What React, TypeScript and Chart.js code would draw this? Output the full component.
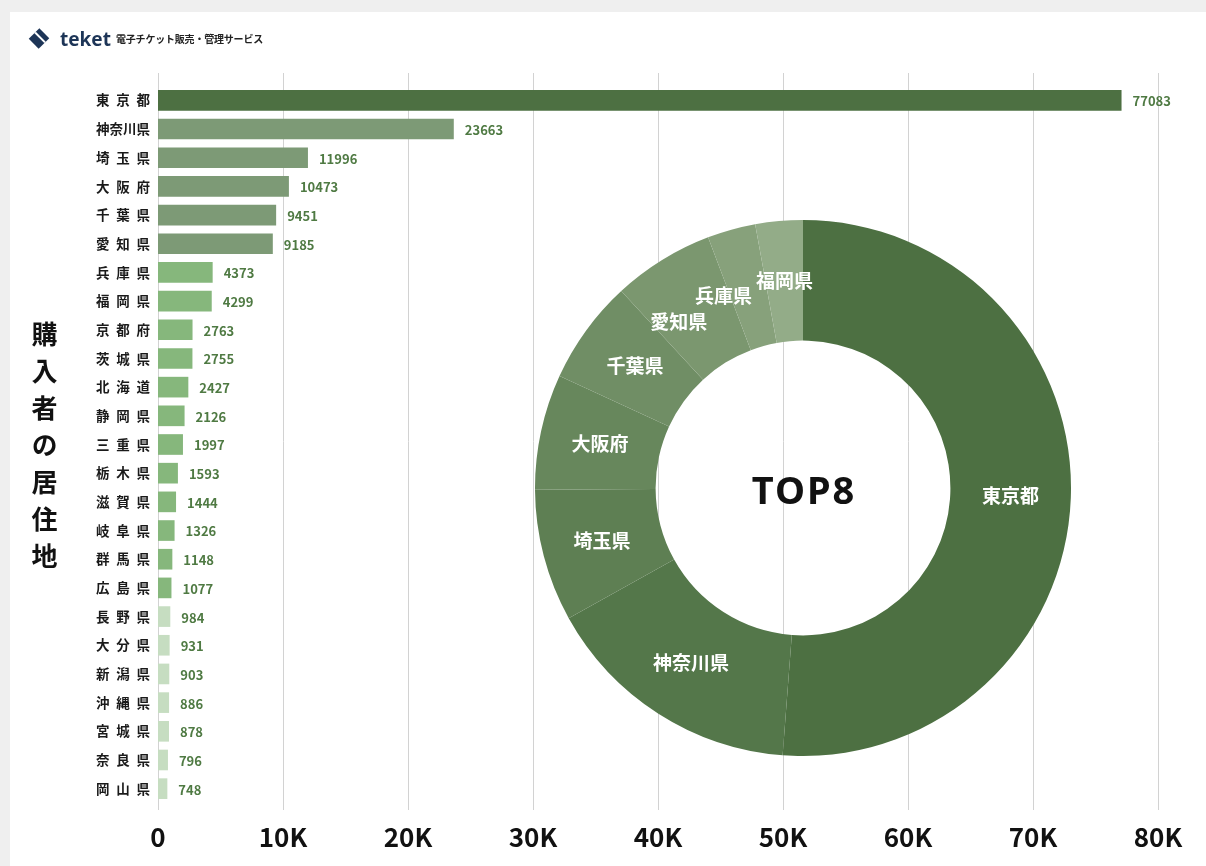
import React, { useEffect, useRef } from "react";
import { Chart, registerables } from "chart.js";

Chart.register(...registerables);

const prefectures = [
  "東京都", "神奈川県", "埼玉県", "大阪府", "千葉県", "愛知県", "兵庫県", "福岡県",
  "京都府", "茨城県", "北海道", "静岡県", "三重県", "栃木県", "滋賀県", "岐阜県",
  "群馬県", "広島県", "長野県", "大分県", "新潟県", "沖縄県", "宮城県", "奈良県", "岡山県",
];
const buyers = [
  77083, 23663, 11996, 10473, 9451, 9185, 4373, 4299,
  2763, 2755, 2427, 2126, 1997, 1593, 1444, 1326,
  1148, 1077, 984, 931, 903, 886, 878, 796, 748,
];
const xTickValues = [0, 10000, 20000, 30000, 40000, 50000, 60000, 70000, 80000];
const xTickLabels = ["0", "10K", "20K", "30K", "40K", "50K", "60K", "70K", "80K"];
const top8Labels = prefectures.slice(0, 8);
const top8Values = buyers.slice(0, 8);
const centerTitle = "TOP8";
const yTitle = "購入者の居住地";
const brand = "teket";
const brandSub = "電子チケット販売・管理サービス";

const FONT = "'Noto Sans CJK JP', 'Noto Sans', sans-serif";

function barColor(i: number): string {
  if (i === 0) return "#4d7042";
  if (i <= 5) return "#7d9a76";
  if (i <= 17) return "#86b77c";
  return "#c6ddc1";
}

const donutColors = ["#4d7042", "#54774a", "#5e7f53", "#67875c", "#708e65", "#7b976f", "#87a17b", "#93ac88"];

const gridPlugin = {
  id: "extGrid",
  beforeDatasetsDraw(chart: any) {
    const { ctx, chartArea } = chart;
    const xs = chart.scales.x;
    ctx.save();
    ctx.strokeStyle = "#d2d2d2";
    ctx.lineWidth = 1;
    xTickValues.forEach((v) => {
      const x = Math.round(xs.getPixelForValue(v)) + 0.5;
      ctx.beginPath();
      ctx.moveTo(x, chartArea.top - 13);
      ctx.lineTo(x, chartArea.bottom + 7);
      ctx.stroke();
    });
    ctx.restore();
  },
};

const valuePlugin = {
  id: "valueLabels",
  afterDatasetsDraw(chart: any) {
    const { ctx } = chart;
    const meta = chart.getDatasetMeta(0);
    ctx.save();
    ctx.font = `bold 13px ${FONT}`;
    ctx.fillStyle = "#4f7a43";
    ctx.textBaseline = "middle";
    ctx.textAlign = "left";
    meta.data.forEach((el: any, i: number) => {
      ctx.fillText(String(buyers[i]), el.x + 11, el.y + 1);
    });
    ctx.restore();
  },
};

const donutLabelPlugin = {
  id: "donutLabels",
  afterDatasetsDraw(chart: any) {
    const { ctx } = chart;
    const meta = chart.getDatasetMeta(0);
    ctx.save();
    ctx.font = `bold 19px ${FONT}`;
    ctx.fillStyle = "#ffffff";
    ctx.textBaseline = "middle";
    ctx.textAlign = "center";
    const items = meta.data.map((el: any, i: number) => {
      const p = el.getProps(["x", "y", "startAngle", "endAngle", "innerRadius", "outerRadius"], true);
      return {
        cx: p.x,
        cy: p.y,
        a: (p.startAngle + p.endAngle) / 2,
        r: (p.innerRadius + p.outerRadius) / 2,
        w: ctx.measureText(top8Labels[i]).width,
        text: top8Labels[i],
      };
    });
    const pos = (it: any) => ({ x: it.cx + Math.cos(it.a) * it.r, y: it.cy + Math.sin(it.a) * it.r });
    const overlap = (a: any, b: any) => {
      const pa = pos(a);
      const pb = pos(b);
      return Math.abs(pa.x - pb.x) < (a.w + b.w) / 2 + 2 && Math.abs(pa.y - pb.y) < 24;
    };
    // push labels of small slices apart (counter-clockwise) so they don't collide
    for (let i = items.length - 2; i >= 1; i--) {
      let guard = 0;
      while (overlap(items[i], items[i + 1]) && guard < 90) {
        items[i].a -= Math.PI / 180;
        guard++;
      }
    }
    items.forEach((it: any) => {
      const p = pos(it);
      ctx.fillText(it.text, p.x, p.y);
    });
    ctx.restore();
  },
};

export default function App() {
  const barRef = useRef<HTMLCanvasElement>(null);
  const donutRef = useRef<HTMLCanvasElement>(null);

  useEffect(() => {
    const bar = new Chart(barRef.current as HTMLCanvasElement, {
      type: "bar",
      data: {
        labels: prefectures,
        datasets: [
          {
            data: buyers,
            backgroundColor: buyers.map((_, i) => barColor(i)),
            borderWidth: 0,
            barPercentage: 0.72,
            categoryPercentage: 1,
          },
        ],
      },
      options: {
        indexAxis: "y",
        animation: false,
        responsive: false,
        layout: { padding: { top: 86, right: 48, left: 0, bottom: 0 } },
        plugins: { legend: { display: false }, tooltip: { enabled: false } },
        scales: {
          x: {
            min: 0,
            max: 80000,
            afterFit: (s: any) => {
              s.height = 63;
            },
            afterBuildTicks: (s: any) => {
              s.ticks = xTickValues.map((v) => ({ value: v }));
            },
            grid: { display: false, drawTicks: false },
            border: { display: false },
            ticks: {
              padding: 19,
              color: "#111111",
              font: { family: FONT, size: 26, weight: "bold" },
              callback: (v: any) => xTickLabels[xTickValues.indexOf(Number(v))] ?? "",
              maxRotation: 0,
              autoSkip: false,
            },
          },
          y: {
            afterFit: (s: any) => {
              s.width = 158;
            },
            grid: { display: false, drawTicks: false },
            border: { display: false },
            ticks: {
              padding: 8,
              color: "#1a1a1a",
              font: { family: FONT, size: 13.5, weight: "bold" },
              autoSkip: false,
              callback: (_v: any, i: number) => {
                const name = prefectures[i];
                return name.length === 3 ? name.split("").join("\u2002") : name;
              },
            },
          },
        },
      },
      plugins: [gridPlugin, valuePlugin],
    } as any);

    const donut = new Chart(donutRef.current as HTMLCanvasElement, {
      type: "doughnut",
      data: {
        labels: top8Labels,
        datasets: [
          {
            data: top8Values,
            backgroundColor: donutColors,
            borderWidth: 0,
          },
        ],
      },
      options: {
        animation: false,
        responsive: false,
        cutout: "55%",
        plugins: { legend: { display: false }, tooltip: { enabled: false } },
      },
      plugins: [donutLabelPlugin],
    } as any);

    return () => {
      bar.destroy();
      donut.destroy();
    };
  }, []);

  return (
    <div
      style={{
        position: "fixed",
        left: 0,
        top: 0,
        width: 1206,
        height: 866,
        background: "#ffffff",
        overflow: "hidden",
        fontFamily: FONT,
      }}
    >
      <div style={{ position: "absolute", left: 0, top: 0, width: 1206, height: 12, background: "#efefef" }} />
      <div style={{ position: "absolute", left: 0, top: 0, width: 10, height: 866, background: "#efefef" }} />

      <canvas ref={barRef} width={1206} height={866} style={{ position: "absolute", left: 0, top: 0 }} />
      <canvas ref={donutRef} width={536} height={536} style={{ position: "absolute", left: 535, top: 220 }} />

      <div
        style={{
          position: "absolute",
          left: 804,
          top: 489,
          transform: "translate(-50%, -50%)",
          fontSize: 38,
          fontWeight: 700,
          letterSpacing: 2,
          color: "#111111",
          fontFamily: "'Noto Sans', sans-serif",
          lineHeight: 1,
        }}
      >
        {centerTitle}
      </div>

      <div
        style={{
          position: "absolute",
          left: 44,
          top: 321,
          transform: "translateX(-50%)",
          writingMode: "vertical-rl",
          textOrientation: "upright",
          fontSize: 26,
          fontWeight: 700,
          letterSpacing: 11,
          lineHeight: 1,
          color: "#111111",
        }}
      >
        {yTitle}
      </div>

      {/* logo */}
      <div
        style={{
          position: "absolute",
          left: 32,
          top: 31,
          width: 14,
          height: 15,
          background: "#1d3557",
          transform: "rotate(45deg)",
        }}
      >
        <div style={{ position: "absolute", left: 0, top: 5, width: 14, height: 1.5, background: "#ffffff" }} />
      </div>
      <div
        style={{
          position: "absolute",
          left: 60,
          top: 26,
          fontFamily: "'Noto Sans', sans-serif",
          fontSize: 19,
          fontWeight: 700,
          color: "#1d3557",
          lineHeight: "26px",
        }}
      >
        {brand}
      </div>
      <div
        style={{
          position: "absolute",
          left: 116,
          top: 32,
          fontSize: 10,
          fontWeight: 700,
          color: "#222222",
          lineHeight: "14px",
          whiteSpace: "nowrap",
          letterSpacing: -0.2,
        }}
      >
        {brandSub}
      </div>
    </div>
  );
}
